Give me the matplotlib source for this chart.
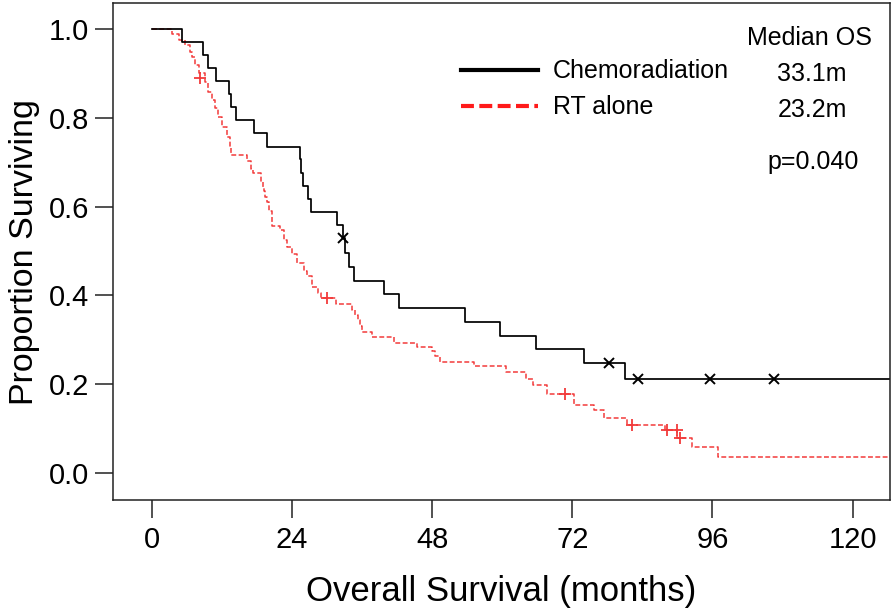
import matplotlib
matplotlib.use("Agg")
import matplotlib.pyplot as plt
from matplotlib.lines import Line2D

# ---- data ----
chemo_t = [0, 5.1, 8.8, 9.7, 11.0, 13.3, 13.5, 14.4, 17.5, 19.7, 25.4, 25.6, 25.9,
           26.8, 27.3, 31.7, 32.7, 33.1, 33.7, 34.6, 39.8, 42.4, 53.6, 59.6, 65.8,
           74.0, 81.0, 127.0]
chemo_s = [1.0, 0.971, 0.941, 0.912, 0.882, 0.853, 0.824, 0.794, 0.765, 0.735, 0.706,
           0.676, 0.647, 0.618, 0.588, 0.559, 0.529, 0.496, 0.464, 0.433, 0.402, 0.371,
           0.340, 0.309, 0.278, 0.247, 0.212, 0.212]
chemo_cens_t = [32.8, 78.2, 83.3, 95.5, 106.6]
chemo_cens_s = [0.529, 0.247, 0.212, 0.212, 0.212]

rt_t = [0, 3.4, 4.6, 5.6, 6.5, 6.8, 7.4, 8.0, 9.1, 9.7, 10.3, 10.8, 11.4, 12.0, 12.8,
        13.4, 13.6, 16.3, 16.9, 17.4, 18.7, 19.0, 19.2, 19.4, 19.7, 20.0, 20.5, 22.0,
        22.6, 23.2, 24.0, 24.9, 26.0, 26.6, 27.4, 28.5, 29.0, 31.5, 34.2, 34.8, 35.3,
        35.6, 36.0, 37.7, 41.5, 45.4, 47.9, 48.5, 49.4, 55.1, 60.7, 64.1, 65.3, 67.6,
        72.3, 75.7, 77.4, 81.3, 87.9, 90.0, 92.5, 96.9, 127.0]
rt_s = [1.0, 0.988, 0.976, 0.964, 0.949, 0.938, 0.919, 0.901, 0.881, 0.859, 0.840,
        0.821, 0.802, 0.780, 0.757, 0.735, 0.716, 0.703, 0.684, 0.675, 0.656, 0.645,
        0.634, 0.622, 0.611, 0.590, 0.556, 0.547, 0.525, 0.509, 0.494, 0.473, 0.455,
        0.443, 0.419, 0.406, 0.393, 0.380, 0.367, 0.355, 0.344, 0.331, 0.318, 0.305,
        0.293, 0.283, 0.274, 0.262, 0.250, 0.240, 0.228, 0.211, 0.198, 0.177, 0.153,
        0.141, 0.123, 0.108, 0.096, 0.078, 0.057, 0.036, 0.036]
rt_cens_t = [8.3, 30.0, 70.8, 82.2, 88.2, 89.9, 90.5]
rt_cens_s = [0.889, 0.393, 0.177, 0.108, 0.096, 0.096, 0.078]

xticks = [0, 24, 48, 72, 96, 120]
yticks = [0.0, 0.2, 0.4, 0.6, 0.8, 1.0]
labels = ["Chemoradiation", "RT alone"]
medians = ["33.1m", "23.2m"]
pval = "p=0.040"

plt.rcParams['font.family'] = ['Liberation Sans', 'DejaVu Sans']

fig = plt.figure(figsize=(8.96, 6.10), dpi=100)
W, H = 896, 610
ax_l, ax_r, ax_t, ax_b = 112.7, 890.0, 3.3, 500.0
ax = fig.add_axes([ax_l / W, 1 - ax_b / H, (ax_r - ax_l) / W, (ax_b - ax_t) / H])

RED = '#f23a3a'
ax.step(rt_t, rt_s, where='post', color=RED, lw=1.1, linestyle=(0, (3.2, 1.6)))
ax.step(chemo_t, chemo_s, where='post', color='black', lw=1.25)
ax.plot(rt_cens_t, rt_cens_s, linestyle='none', marker='+', color=RED, ms=9, mew=1.3)
ax.plot(chemo_cens_t, chemo_cens_s, linestyle='none', marker='x', color='black', ms=6.5, mew=1.4)

ax.set_xlim(-6.7, 126.4)
ax.set_ylim(-0.0615, 1.058)
ax.set_xticks(xticks)
ax.set_yticks(yticks)
ax.set_yticklabels([f"{v:.1f}" for v in yticks])
ax.tick_params(axis='both', direction='out', length=13, width=1.1, labelsize=21, color='#222222')
ax.tick_params(axis='x', pad=6)
ax.tick_params(axis='y', pad=4)
for sp in ax.spines.values():
    sp.set_linewidth(1.1)
    sp.set_color('#222222')

ax.set_xlabel("Overall Survival (months)", fontsize=25, labelpad=15)
ax.set_ylabel("Proportion Surviving", fontsize=24.5, labelpad=6)

handles = [Line2D([], [], color='black', lw=3.0),
           Line2D([], [], color='#ff1a1a', lw=3.0, linestyle=(0, (3.1, 1.3)))]
leg = ax.legend(handles, labels, loc='upper left', bbox_to_anchor=(0.4475, 0.887),
                frameon=False, fontsize=18, handlelength=3.1, handletextpad=0.6,
                labelspacing=0.48, borderpad=0, borderaxespad=0)

def ax_xy(px, py):
    return ((px - ax_l) / (ax_r - ax_l), (ax_b - py) / (ax_b - ax_t))

ax.text(*ax_xy(809, 38), "Median OS", transform=ax.transAxes, fontsize=18, ha='center', va='center')
for lab, py in zip(medians, [74, 110]):
    ax.text(*ax_xy(812, py), lab, transform=ax.transAxes, fontsize=18, ha='center', va='center')
ax.text(*ax_xy(813, 162), pval, transform=ax.transAxes, fontsize=18, ha='center', va='center')

fig.savefig("out.png", dpi=100)
